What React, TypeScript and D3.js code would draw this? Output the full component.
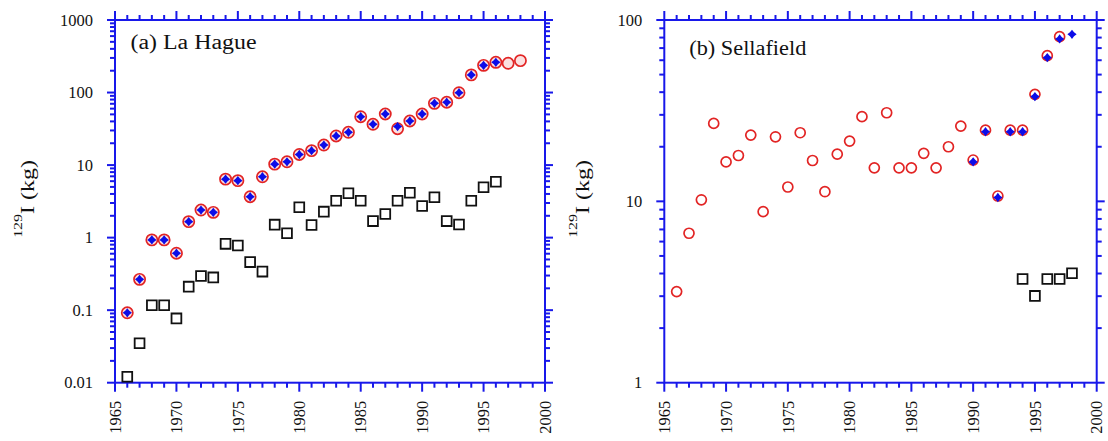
import React from "react";
import * as d3 from "d3";

// ---------- Data ----------
const laHagueYears = d3.range(1966, 1999);
const laHagueCircles = [
  0.092, 0.266, 0.93, 0.93, 0.61, 1.66, 2.4, 2.23, 6.4, 6.1, 3.66, 6.9, 10.3, 11.1, 14.0, 15.8,
  18.9, 25.2, 28.3, 46.4, 36.5, 50.6, 31.7, 40.5, 50.6, 71, 73.5, 99.5, 175, 237, 261, 253, 275,
];
const laHagueStarYears = d3.range(1966, 1997);
const laHagueStars = [
  0.092, 0.266, 0.93, 0.93, 0.61, 1.66, 2.4, 2.23, 6.4, 6.1, 3.66, 6.9, 10.3, 11.1, 14.0, 15.8,
  18.9, 25.2, 28.3, 46.4, 36.5, 50.6, 34, 40.5, 50.6, 71, 73.5, 99.5, 175, 237, 261,
];
const laHagueSquareYears = d3.range(1966, 1997);
const laHagueSquares = [
  0.0121, 0.0349, 0.117, 0.117, 0.077, 0.211, 0.296, 0.283, 0.82, 0.78, 0.46, 0.34, 1.51, 1.15,
  2.62, 1.49, 2.28, 3.23, 4.08, 3.23, 1.69, 2.12, 3.23, 4.16, 2.73, 3.6, 1.69, 1.52, 3.23, 4.94, 5.9,
];

const sellafieldYears = d3.range(1966, 1998);
const sellafieldCircles = [
  3.18, 6.67, 10.2, 26.9, 16.5, 17.9, 23.2, 8.77, 22.7, 12.0, 23.9, 16.8, 11.3, 18.2, 21.5, 29.3,
  15.3, 30.8, 15.3, 15.3, 18.4, 15.3, 20.0, 26.0, 16.9, 24.7, 10.7, 24.7, 24.7, 38.9, 63.6, 80.9,
];
const sellafieldStarYears = d3.range(1990, 1999);
const sellafieldStars = [16.5, 24.2, 10.5, 24.2, 24.2, 37.8, 62, 78.6, 83.4];
const sellafieldSquareYears = d3.range(1994, 1999);
const sellafieldSquares = [3.73, 3.01, 3.73, 3.73, 4.01];

const yearDomain = [1965, 2000];
const laHagueDomain = [0.01, 1000];
const sellafieldDomain = [1, 100];
const laHagueTickLabels = ["0.01", "0.1", "1", "10", "100", "1000"];
const sellafieldTickLabels = ["1", "10", "100"];

// ---------- Styles ----------
const AXIS = "#1818ea";
const RED = "#e22424";
const BLUE = "#0c0ce8";
const FONT = "'Liberation Serif', 'Times New Roman', serif";

const star4: d3.SymbolType = {
  draw(ctx: any, size: number) {
    const r = Math.sqrt(size) * 0.6;
    const ri = r * 0.62;
    for (let i = 0; i < 8; i++) {
      const a = (i * Math.PI) / 4 - Math.PI / 2;
      const rad = i % 2 === 0 ? r : ri;
      const x = Math.cos(a) * rad;
      const y = Math.sin(a) * rad;
      if (i === 0) ctx.moveTo(x, y);
      else ctx.lineTo(x, y);
    }
    ctx.closePath();
  },
};

type PanelProps = {
  x0: number;
  x1: number;
  y0: number;
  y1: number;
  yDomain: number[];
  yLabels: string[];
  title: string;
  titleX: number;
  titleY: number;
  titleLen: number;
  ylabX: number;
  circleYears: number[];
  circles: number[];
  circleFill: boolean;
  starYears: number[];
  stars: number[];
  squareYears: number[];
  squares: number[];
};

function Panel(p: PanelProps) {
  const x = d3.scaleLinear().domain(yearDomain).range([p.x0, p.x1]);
  const y = d3.scaleLog().domain(p.yDomain).range([p.y1, p.y0]);
  const years = d3.range(yearDomain[0], yearDomain[1] + 1);
  const yTicks = y.ticks();
  const isMajor = (v: number) => Math.abs(Math.log10(v) - Math.round(Math.log10(v))) < 1e-6;
  const starPath = d3.symbol().type(star4).size(60)() as string;
  const sqPath = d3.symbol().type(d3.symbolSquare).size(96)() as string;
  const majors = yTicks.filter(isMajor);

  return (
    <g>
      {/* frame */}
      <rect x={p.x0} y={p.y0} width={p.x1 - p.x0} height={p.y1 - p.y0} fill="none" stroke={AXIS} strokeWidth={2} />
      {/* x ticks bottom & top */}
      {years.map((yr) => {
        const mj = yr % 5 === 0;
        const L = mj ? 9 : 5;
        const xx = x(yr);
        return (
          <g key={"xt" + yr}>
            <line x1={xx} x2={xx} y1={p.y1} y2={p.y1 + L} stroke={AXIS} strokeWidth={2} />
            <line x1={xx} x2={xx} y1={p.y0} y2={p.y0 - L} stroke={AXIS} strokeWidth={2} />
          </g>
        );
      })}
      {/* y ticks left & right */}
      {yTicks.map((v, i) => {
        const mj = isMajor(v);
        const L = mj ? 8 : 5;
        const yy = y(v);
        return (
          <g key={"yt" + i}>
            <line x1={p.x0} x2={p.x0 - L} y1={yy} y2={yy} stroke={AXIS} strokeWidth={2} />
            <line x1={p.x1} x2={p.x1 + L} y1={yy} y2={yy} stroke={AXIS} strokeWidth={2} />
          </g>
        );
      })}
      {/* y tick labels */}
      {majors.map((v, i) => (
        <text key={"yl" + i} x={p.x0 - 22} y={y(v)} dy="0.35em" textAnchor="end" fontFamily={FONT} fontSize={16.5} fill="#111">
          {p.yLabels[i]}
        </text>
      ))}
      {/* x tick labels */}
      {years
        .filter((yr) => yr % 5 === 0)
        .map((yr) => (
          <text
            key={"xl" + yr}
            transform={`translate(${x(yr)},${p.y1 + 18}) rotate(-90)`}
            dy="0.35em"
            textAnchor="end"
            fontFamily={FONT}
            fontSize={16.5}
            fill="#111"
          >
            {yr}
          </text>
        ))}
      {/* y axis label */}
      <text
        transform={`translate(${p.ylabX},199) rotate(-90) scale(1.33,1)`}
        textAnchor="middle"
        fontFamily={FONT}
        fill="#111"
      >
        <tspan fontSize={12} dy={-12}>129</tspan>
        <tspan fontSize={18} dy={12}>I (kg)</tspan>
      </text>
      {/* title */}
      <text
        x={p.titleX}
        y={p.titleY}
        fontFamily={FONT}
        fontSize={20}
        textLength={p.titleLen}
        lengthAdjust="spacingAndGlyphs"
        fill="#111"
      >
        {p.title}
      </text>
      {/* squares */}
      {p.squares.map((v, i) => (
        <path
          key={"sq" + i}
          d={sqPath}
          transform={`translate(${x(p.squareYears[i])},${y(v)})`}
          fill="none"
          stroke="#111"
          strokeWidth={1.8}
        />
      ))}
      {/* circles */}
      {p.circles.map((v, i) => (
        <circle
          key={"c" + i}
          cx={x(p.circleYears[i])}
          cy={y(v)}
          r={p.circleFill ? 5.6 : 5}
          fill={p.circleFill ? "#fbe0e0" : "none"}
          stroke={RED}
          strokeWidth={1.7}
        />
      ))}
      {/* stars */}
      {p.stars.map((v, i) => (
        <path key={"st" + i} d={starPath} transform={`translate(${x(p.starYears[i])},${y(v)})`} fill={BLUE} />
      ))}
    </g>
  );
}

export default function App() {
  return (
    <svg
      width={1108}
      height={441}
      style={{ position: "absolute", left: 0, top: 0, background: "#fff" }}
    >
      <rect width={1108} height={441} fill="#fff" />
      <Panel
        x0={115}
        x1={545}
        y0={20}
        y1={382.7}
        yDomain={laHagueDomain}
        yLabels={laHagueTickLabels}
        title="(a) La Hague"
        titleX={130.5}
        titleY={49}
        titleLen={126}
        ylabX={33.5}
        circleYears={laHagueYears}
        circles={laHagueCircles}
        circleFill={true}
        starYears={laHagueStarYears}
        stars={laHagueStars}
        squareYears={laHagueSquareYears}
        squares={laHagueSquares}
      />
      <Panel
        x0={664.3}
        x1={1096.7}
        y0={20}
        y1={382.7}
        yDomain={sellafieldDomain}
        yLabels={sellafieldTickLabels}
        title="(b) Sellafield"
        titleX={689.3}
        titleY={55}
        titleLen={117}
        ylabX={588.5}
        circleYears={sellafieldYears}
        circles={sellafieldCircles}
        circleFill={false}
        starYears={sellafieldStarYears}
        stars={sellafieldStars}
        squareYears={sellafieldSquareYears}
        squares={sellafieldSquares}
      />
    </svg>
  );
}
